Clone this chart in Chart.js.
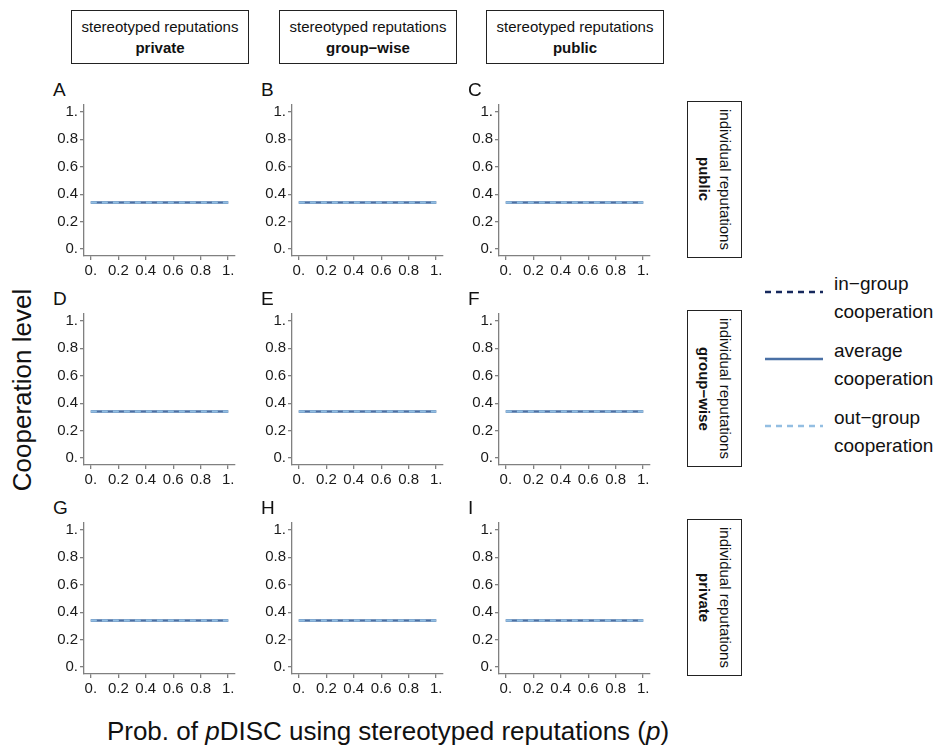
<!DOCTYPE html>
<html>
<head>
<meta charset="utf-8">
<script src="https://cdn.jsdelivr.net/npm/chart.js@4/dist/chart.umd.min.js"></script>
<style>
  body { margin: 0; background: #fff; font-family: "Liberation Sans", Arial, sans-serif; color: #111; }
  #page { position: relative; width: 941px; height: 751px; overflow: hidden; }
  .abs { position: absolute; }
  .strip-top { border: 1.5px solid #222; box-sizing: border-box; display: flex; flex-direction: column;
    align-items: center; justify-content: center; font-size: 15px; line-height: 21px; }
  .strip-right { border: 1.5px solid #222; box-sizing: border-box; writing-mode: vertical-rl;
    display: flex; align-items: center; justify-content: center; font-size: 15px; line-height: 21px; text-align: center; }
  .letter { font-size: 19px; line-height: 1; }
  .legend-text { font-size: 19px; line-height: 28px; }
  canvas { position: absolute; }
</style>
</head>
<body>
<div id="page"></div>
<script>
// values
const pValues = [0, 0.2, 0.4, 0.6, 0.8, 1];
const inGroupCoop = [0.34, 0.34, 0.34, 0.34, 0.34, 0.34];
const averageCoop = [0.34, 0.34, 0.34, 0.34, 0.34, 0.34];
const outGroupCoop = [0.34, 0.34, 0.34, 0.34, 0.34, 0.34];
const tickValues = [0, 0.2, 0.4, 0.6, 0.8, 1];
const tickLabels = ['0.', '0.2', '0.4', '0.6', '0.8', '1.'];
const panelLetters = ['A', 'B', 'C', 'D', 'E', 'F', 'G', 'H', 'I'];
const stereotypedLabels = ['private', 'group\u2212wise', 'public'];
const individualLabels = ['public', 'group\u2212wise', 'private'];
const legendLabels = [['in\u2212group', 'cooperation'], ['average', 'cooperation'], ['out\u2212group', 'cooperation']];

const colors = { inGroup: '#16295c', average: '#4a70a5', outGroup: '#93bee2' };

const page = document.getElementById('page');
const colOff = [0, 208, 415];
const rowOff = [0, 209, 418];
const plotW = 151, plotH = 151;

function addDiv(cls, css, html) {
  const d = document.createElement('div');
  d.className = 'abs ' + cls;
  Object.assign(d.style, css);
  d.innerHTML = html;
  page.appendChild(d);
  return d;
}

// top strips
stereotypedLabels.forEach((lab, c) => {
  addDiv('strip-top', { left: (71 + colOff[c]) + 'px', top: '10px', width: '178px', height: '54px' },
    '<span>stereotyped reputations</span><b>' + lab + '</b>');
});

// right strips
individualLabels.forEach((lab, r) => {
  addDiv('strip-right', { left: '687px', top: (101 + rowOff[r]) + 'px', width: '55px', height: '157px' },
    '<span>individual reputations<br><b>' + lab + '</b></span>');
});

// panels
for (let r = 0; r < 3; r++) {
  for (let c = 0; c < 3; c++) {
    const plotLeft = 84 + colOff[c];
    const plotTop = 105 + rowOff[r];
    addDiv('letter', { left: (plotLeft - 31) + 'px', top: (plotTop - 25) + 'px' }, panelLetters[r * 3 + c]);

    const cv = document.createElement('canvas');
    cv.width = 44 + plotW + 16;
    cv.height = 12 + plotH + 32;
    cv.style.left = (plotLeft - 44) + 'px';
    cv.style.top = (plotTop - 12) + 'px';
    cv.style.width = cv.width + 'px';
    cv.style.height = cv.height + 'px';
    page.appendChild(cv);
    makePanel(cv);
  }
}

function makePanel(cv) {
  const axisColor = '#808080';
  const tickFont = { family: '"Liberation Sans", Arial, sans-serif', size: 15 };
  const fixTicks = (scale) => { scale.ticks = tickValues.map(v => ({ value: v })); };
  new Chart(cv.getContext('2d'), {
    type: 'line',
    data: {
      labels: pValues,
      datasets: [
        { label: 'out-group cooperation', data: outGroupCoop, borderColor: colors.outGroup, borderDash: [6, 5], borderWidth: 2.5 },
        { label: 'average cooperation', data: averageCoop, borderColor: colors.average, borderWidth: 2.5 },
        { label: 'in-group cooperation', data: inGroupCoop, borderColor: colors.inGroup, borderDash: [6, 5], borderWidth: 2.5 },
      ].map(d => Object.assign(d, { pointRadius: 0, fill: false, tension: 0 })),
    },
    options: {
      responsive: false,
      animation: false,
      parsing: true,
      layout: { padding: { left: 0, top: 12, right: 16, bottom: 0 } },
      plugins: { legend: { display: false }, tooltip: { enabled: false } },
      scales: {
        x: {
          type: 'linear', min: -0.05, max: 1.05,
          afterBuildTicks: fixTicks,
          afterFit: (s) => { s.height = 32; },
          grid: { display: true, drawOnChartArea: false, drawTicks: true, tickLength: 4, color: axisColor, lineWidth: 1.3 },
          border: { display: true, color: axisColor, width: 1.3 },
          ticks: { font: tickFont, color: '#1a1a1a', padding: 2, maxRotation: 0,
            callback: (v) => tickLabels[tickValues.findIndex(t => Math.abs(t - v) < 1e-6)] },
        },
        y: {
          type: 'linear', min: -0.05, max: 1.05,
          afterBuildTicks: fixTicks,
          afterFit: (s) => { s.width = 44; },
          grid: { display: true, drawOnChartArea: false, drawTicks: true, tickLength: 4, color: axisColor, lineWidth: 1.3 },
          border: { display: true, color: axisColor, width: 1.3 },
          ticks: { font: tickFont, color: '#1a1a1a', padding: 2,
            callback: (v) => tickLabels[tickValues.findIndex(t => Math.abs(t - v) < 1e-6)] },
        },
      },
    },
  });
}

// legend
const legendKeyY = [284, 351, 418];
const legendStyles = [
  { color: colors.inGroup, dash: '6 5' },
  { color: colors.average, dash: '' },
  { color: colors.outGroup, dash: '6 5' },
];
legendLabels.forEach((lines, i) => {
  const y = legendKeyY[i];
  const st = legendStyles[i];
  addDiv('', { left: '764px', top: (y - 3) + 'px', width: '60px', height: '6px' },
    '<svg width="60" height="6"><line x1="1" y1="3" x2="59" y2="3" stroke="' + st.color +
    '" stroke-width="2.5" stroke-dasharray="' + st.dash + '"/></svg>');
  addDiv('legend-text', { left: '834px', top: (y - 14) + 'px' }, lines.join('<br>'));
});

// axis titles
addDiv('', { left: '388px', top: '716px', transform: 'translateX(-50%)', fontSize: '26px', whiteSpace: 'nowrap' },
  'Prob. of <i>p</i>DISC using stereotyped reputations (<i>p</i>)');
addDiv('', { left: '22px', top: '390px', transform: 'translate(-50%, -50%) rotate(-90deg)', fontSize: '26px', whiteSpace: 'nowrap' },
  'Cooperation level');
</script>
</body>
</html>
